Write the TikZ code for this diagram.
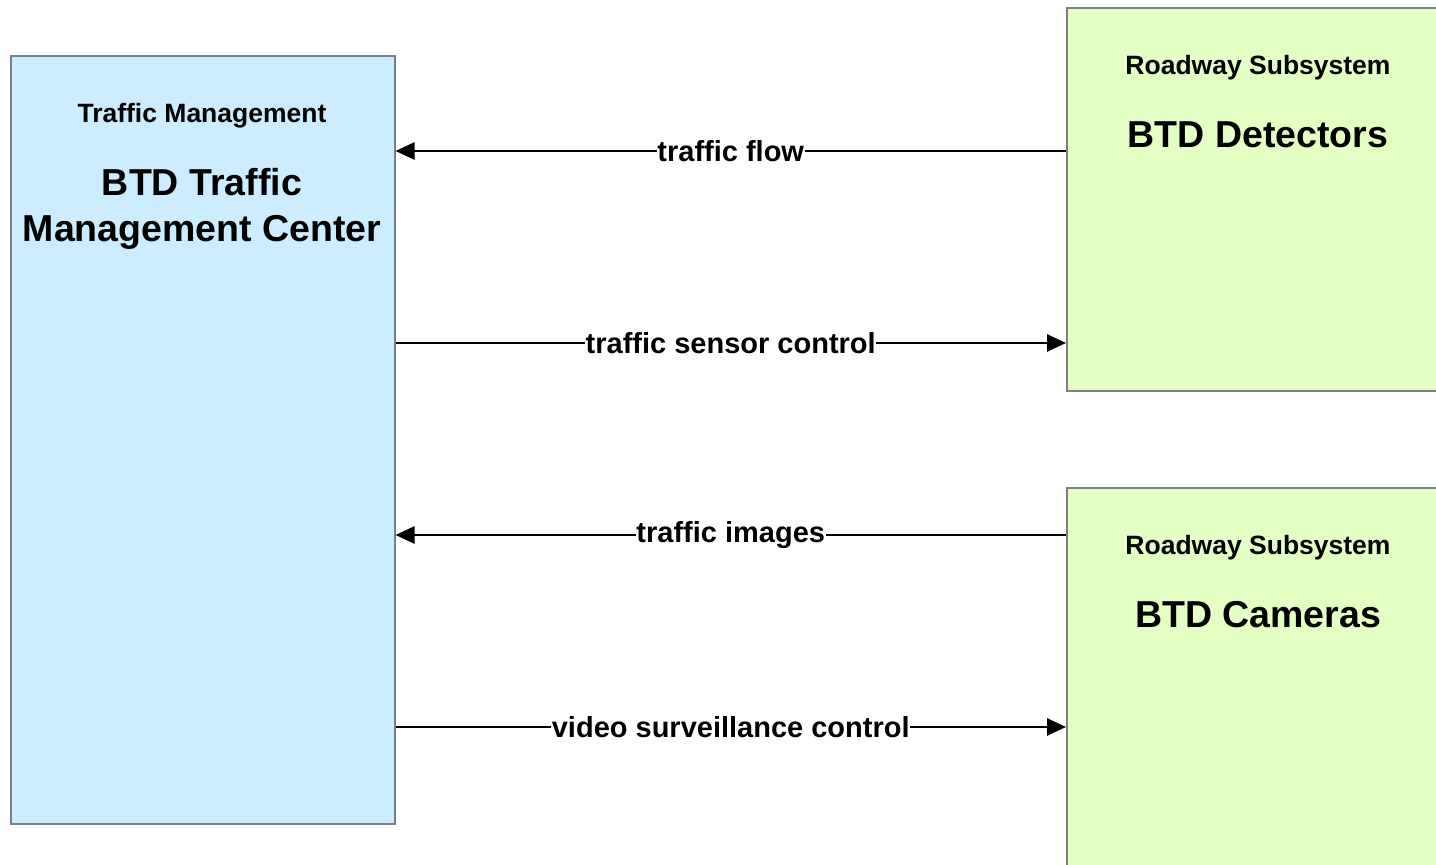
\documentclass[tikz,border=0pt]{standalone}
\usepackage{fontspec}
\setmainfont{Liberation Sans}
\usetikzlibrary{arrows.meta}
\definecolor{tmcfill}{RGB}{204,236,255}
\definecolor{rsfill}{RGB}{227,255,196}
\definecolor{boxline}{RGB}{128,128,128}
\tikzset{
  sysbox/.style={draw=boxline, line width=1.5pt, inner sep=0pt, anchor=north west},
  small/.style={font=\bfseries\fontsize{26.5}{30}\selectfont, anchor=base, inner sep=0pt},
  big/.style={font=\bfseries\fontsize{37.5}{45}\selectfont, anchor=base, inner sep=0pt, align=center},
  flow/.style={line width=2.7pt, -{Triangle[length=19pt,width=17pt]}},
  flowlabel/.style={font=\bfseries\fontsize{29}{33}\selectfont, fill=white, inner sep=0.5pt, midway}
}
\begin{document}
\begin{tikzpicture}[x=1pt,y=-1pt]
\useasboundingbox (0,0) rectangle (1436,865);
\node[sysbox, fill=tmcfill, minimum width=384pt, minimum height=768pt] (tmc) at (10,55) {};
\node[sysbox, fill=rsfill, minimum width=380pt, minimum height=383pt] (det) at (1066,7) {};
\node[sysbox, fill=rsfill, minimum width=380pt, minimum height=390pt] (cam) at (1066,487) {};
\node[small] (tmct) at (202,122) {Traffic Management};
\node[big] (tmcn1) at (202,195) {BTD Traffic};
\node[big] (tmcn2) at (202,241) {Management Center};
\node[small] (dett) at (1258,74) {Roadway Subsystem};
\node[big] (detn) at (1258,147) {BTD Detectors};
\node[small] (camt) at (1258,554) {Roadway Subsystem};
\node[big] (camn) at (1258,627) {BTD Cameras};
\draw[flow] (det.west |- 0,151) -- node[flowlabel] (l1) {traffic flow} (tmc.east |- 0,151);
\draw[flow] (tmc.east |- 0,343) -- node[flowlabel] (l2) {traffic sensor control} (det.west |- 0,343);
\draw[flow] (cam.west |- 0,535) -- node[flowlabel] (l3) {traffic images} (tmc.east |- 0,535);
\draw[flow] (tmc.east |- 0,727) -- node[flowlabel] (l4) {video surveillance control} (cam.west |- 0,727);
\end{tikzpicture}
\end{document}
